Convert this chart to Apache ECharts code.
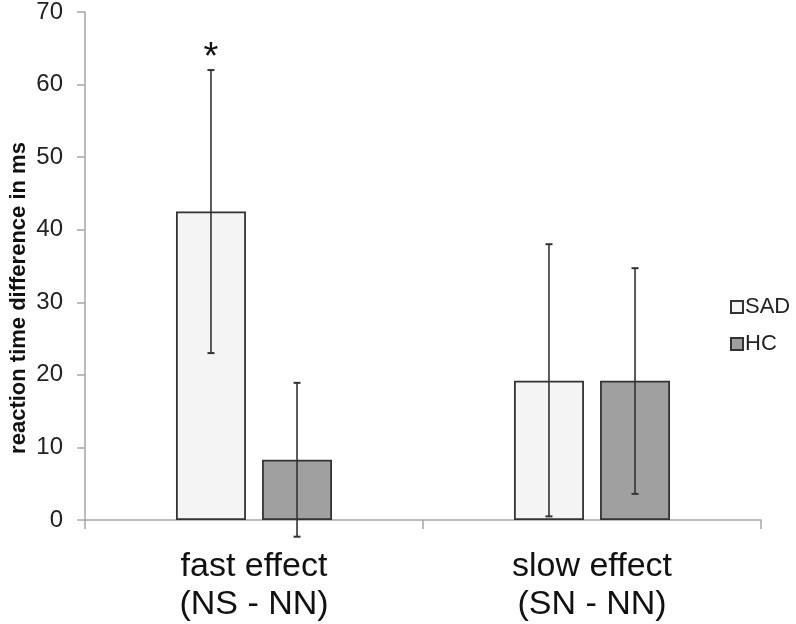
<!DOCTYPE html>
<html><head><meta charset="utf-8">
<script src="https://cdn.jsdelivr.net/npm/echarts@6/dist/echarts.min.js"></script>
<style>html,body{margin:0;padding:0;background:#fff}#c{width:796px;height:624px}</style>
</head><body><div id="c"></div>
<script>
const categories = ['fast effect\n(NS - NN)', 'slow effect\n(SN - NN)'];
const seriesNames = ['SAD', 'HC'];
const sadMean = [42.5, 19.2];
const hcMean = [8.3, 19.2];
const sadLow = [23.0, 0.5];
const sadHigh = [62.0, 38.0];
const hcLow = [-2.3, 3.6];
const hcHigh = [18.9, 34.7];
const sadSig = ['*', ''];
const yMin = 0, yMax = 70, yStep = 10;

const BAR_FRAC = 0.207, GAP_FRAC = 0.23;
const chart = echarts.init(document.getElementById('c'), null, {renderer: 'canvas'});

function errSeries(low, high, sig, side) {
  return {
    type: 'custom',
    name: seriesNames[side < 0 ? 0 : 1] + '-err',
    clip: false,
    silent: true,
    z: 5,
    data: low.map((l, i) => [i, l, high[i], sig ? sig[i] : '']),
    renderItem: function (params, api) {
      const band = api.size([1, 0])[0];
      const bw = band * BAR_FRAC;
      const off = side * (bw + bw * GAP_FRAC) / 2;
      const c = api.coord([api.value(0), api.value(1)]);
      const t = api.coord([api.value(0), api.value(2)]);
      const x = c[0] + off;
      const cap = 3.5;
      const st = {stroke: '#333', lineWidth: 1.6};
      const children = [
        {type: 'line', shape: {x1: x, y1: t[1], x2: x, y2: c[1]}, style: st},
        {type: 'line', shape: {x1: x - cap, y1: t[1], x2: x + cap, y2: t[1]}, style: {stroke: '#333', lineWidth: 2}},
        {type: 'line', shape: {x1: x - cap, y1: c[1], x2: x + cap, y2: c[1]}, style: {stroke: '#333', lineWidth: 2}}
      ];
      const s = api.value(3);
      if (s) {
        children.push({type: 'text', x: x, y: t[1] + 7, style: {text: s, fill: '#111', font: '38px "Liberation Sans", Arial', align: 'center', verticalAlign: 'bottom'}});
      }
      return {type: 'group', children: children};
    }
  };
}

chart.setOption({
  animation: false,
  backgroundColor: '#fff',
  grid: {left: 85, right: 35, top: 10, bottom: 102, containLabel: false},
  legend: {
    orient: 'vertical', left: 725, top: 291, itemGap: 15,
    itemWidth: 12, itemHeight: 12, icon: 'rect',
    data: seriesNames,
    textStyle: {fontSize: 22, color: '#222', fontFamily: '"Liberation Sans", Arial', padding: [0, 0, 0, -3]}
  },
  xAxis: {
    type: 'category', data: categories,
    axisLine: {lineStyle: {color: '#a6a6a6', width: 1.5}},
    axisTick: {show: true, length: 9, alignWithLabel: false, lineStyle: {color: '#a6a6a6', width: 1.5}},
    axisLabel: {fontSize: 34, color: '#111', fontFamily: '"Liberation Sans", Arial', margin: 28, lineHeight: 38}
  },
  yAxis: {
    type: 'value', min: yMin, max: yMax, interval: yStep,
    splitLine: {show: false},
    axisLine: {show: true, lineStyle: {color: '#a6a6a6', width: 1.5}},
    axisTick: {show: true, length: 8, lineStyle: {color: '#a6a6a6', width: 1.5}},
    axisLabel: {fontSize: 24, color: '#222', fontFamily: '"Liberation Sans", Arial', margin: 22}
  },
  graphic: [{
    type: 'text', x: 19, y: 298, rotation: Math.PI / 2,
    style: {text: 'reaction time difference in ms', font: 'bold 22px "Liberation Sans", Arial', fill: '#111', align: 'center', verticalAlign: 'middle'}
  }],
  series: [
    {name: 'SAD', type: 'bar', data: sadMean, barWidth: (BAR_FRAC * 100) + '%', barGap: (GAP_FRAC * 100) + '%',
     itemStyle: {color: '#f4f4f4', borderColor: '#333', borderWidth: 1.8}},
    {name: 'HC', type: 'bar', data: hcMean, barWidth: (BAR_FRAC * 100) + '%', barGap: (GAP_FRAC * 100) + '%',
     itemStyle: {color: '#a0a0a0', borderColor: '#333', borderWidth: 1.8}},
    errSeries(sadLow, sadHigh, sadSig, -1),
    errSeries(hcLow, hcHigh, null, 1)
  ]
});
</script></body></html>
